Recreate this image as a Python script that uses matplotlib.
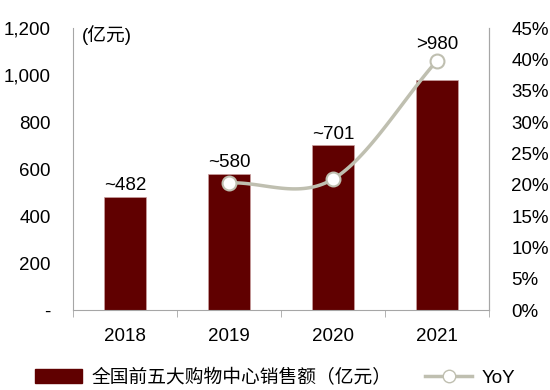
import numpy as np
import matplotlib
matplotlib.use("Agg")
import matplotlib.pyplot as plt
from matplotlib.ticker import FuncFormatter
from matplotlib.lines import Line2D
from matplotlib.patches import Patch

years = ["2018", "2019", "2020", "2021"]
sales = [482, 580, 701, 980]
sales_labels = ["~482", "~580", "~701", ">980"]
yoy = [20.3, 20.9, 39.8]   # % for 2019-2021
yoy_years = [1, 2, 3]

plt.rcParams['font.family'] = ['Liberation Sans', 'Noto Sans CJK SC']
fs = 13.5
bar_color = "#600000"
line_color = "#BFBFB0"
spine_color = "#A6A6A6"


def catmull_rom(xs, ys, n=40):
    # smoothed line like the spreadsheet "smooth line" option
    xs = np.asarray(xs, float)
    ys = np.asarray(ys, float)
    px = np.concatenate([[2 * xs[0] - xs[1]], xs, [2 * xs[-1] - xs[-2]]])
    py = np.concatenate([[2 * ys[0] - ys[1]], ys, [2 * ys[-1] - ys[-2]]])
    out_x, out_y = [], []
    for i in range(1, len(px) - 2):
        t = np.linspace(0, 1, n)
        for p, out in ((px, out_x), (py, out_y)):
            p0, p1, p2, p3 = p[i - 1], p[i], p[i + 1], p[i + 2]
            out.extend(0.5 * ((2 * p1) + (-p0 + p2) * t
                              + (2 * p0 - 5 * p1 + 4 * p2 - p3) * t ** 2
                              + (-p0 + 3 * p1 - 3 * p2 + p3) * t ** 3))
    return np.array(out_x), np.array(out_y)


fig = plt.figure(figsize=(5.5, 3.9), dpi=100)
ax = fig.add_axes([0.133, 0.205, 0.756, 0.723])
x = np.arange(len(years))
ax.bar(x, sales, width=0.4, color=bar_color, edgecolor="#C9A0A0", linewidth=0.5, zorder=2)
ax.set_xlim(-0.5, 3.5)
ax.set_ylim(0, 1200)
ax.set_yticks(range(0, 1201, 200))
ax.yaxis.set_major_formatter(FuncFormatter(lambda v, _: "-" if v == 0 else "{:,.0f}".format(v)))
ax.set_xticks(x)
ax.set_xticklabels(years, fontsize=fs)
ax.set_xticks(np.arange(-0.5, 4, 1), minor=True)
ax.tick_params(axis="x", which="major", length=0, pad=13)
ax.tick_params(axis="x", which="minor", length=5, color=spine_color, direction="out")
ax.tick_params(axis="y", length=0, labelsize=fs, pad=16)
for s in ["left", "right", "bottom"]:
    ax.spines[s].set_color(spine_color)
ax.spines["top"].set_visible(False)

for i, (v, lab) in enumerate(zip(sales, sales_labels)):
    yy = v + 12 if i < 3 else 1095
    ax.text(i, yy, lab, ha="center", va="bottom", fontsize=fs)

ax.text(0.022, 1.01, "(亿元)", transform=ax.transAxes, ha="left", va="top", fontsize=fs)

ax2 = ax.twinx()
ax2.set_ylim(0, 45)
ax2.set_yticks(range(0, 46, 5))
ax2.yaxis.set_major_formatter(FuncFormatter(lambda v, _: "{:.0f}%".format(v)))
ax2.tick_params(axis="y", length=0, labelsize=fs, pad=16)
ax2.spines["right"].set_color(spine_color)
ax2.spines["left"].set_visible(False)
ax2.spines["top"].set_visible(False)
ax2.spines["bottom"].set_visible(False)
sx, sy = catmull_rom(yoy_years, yoy)
ax2.plot(sx, sy, color=line_color, linewidth=2.5, zorder=3)
ax2.plot(yoy_years, yoy, linestyle="none", marker="o", markersize=10,
         markerfacecolor="white", markeredgecolor=line_color, markeredgewidth=1.5, zorder=4)

handles = [Patch(facecolor=bar_color, edgecolor=bar_color),
           Line2D([], [], color=line_color, linewidth=2.5, marker="o", markersize=9,
                  markerfacecolor="white", markeredgecolor=line_color)]
fig.legend(handles, ["全国前五大购物中心销售额（亿元）", "YoY"], loc="lower center",
           bbox_to_anchor=(0.5, -0.035), ncol=2, frameon=False, fontsize=fs,
           handlelength=2.5, handleheight=0.75, columnspacing=1.8, handletextpad=0.5)

fig.savefig("out.png", dpi=100)
